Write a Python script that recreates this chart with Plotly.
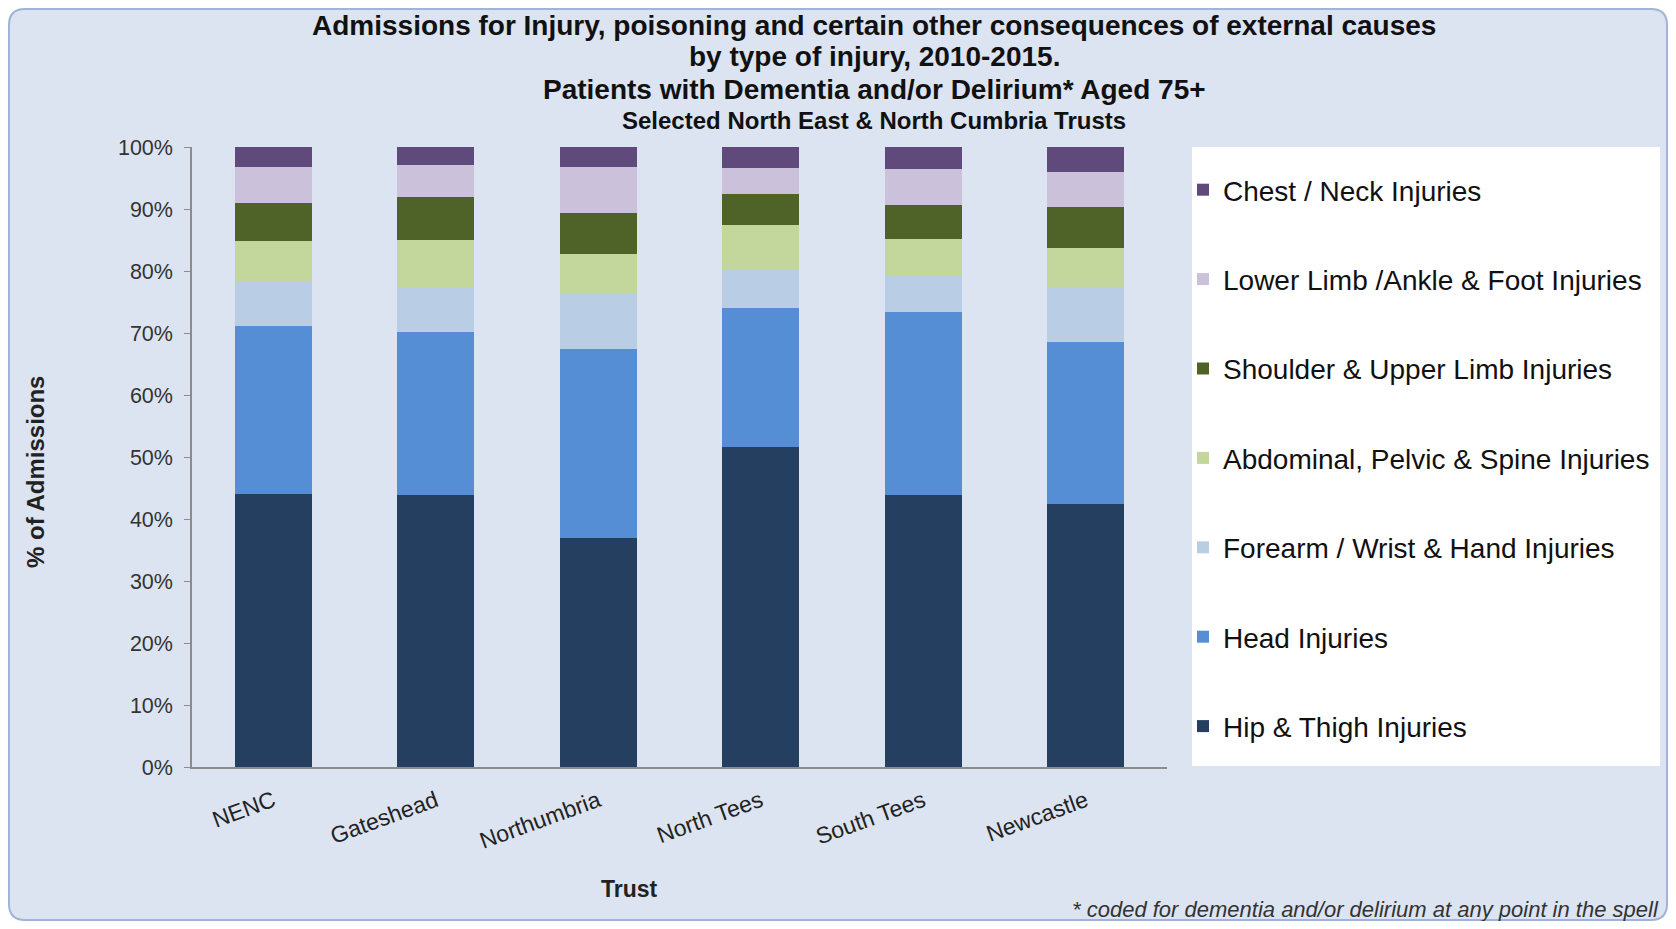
import plotly.graph_objects as go

# ---- data ----
trusts = ["NENC", "Gateshead", "Northumbria", "North Tees", "South Tees", "Newcastle"]

hip_thigh      = [44.0, 43.9, 37.0, 51.6, 43.9, 42.4]
head           = [27.2, 26.2, 30.4, 22.5, 29.5, 26.2]
forearm_wrist  = [7.0, 7.1, 9.0, 6.3, 6.0, 8.9]
abdominal      = [6.6, 7.8, 6.3, 7.0, 5.7, 6.2]
shoulder_upper = [6.1, 7.0, 6.6, 5.1, 5.5, 6.6]
lower_limb     = [5.8, 5.1, 7.4, 4.1, 5.9, 5.6]
chest_neck     = [3.3, 2.9, 3.3, 3.4, 3.5, 4.1]

series_names = [
    "Hip & Thigh Injuries",
    "Head Injuries",
    "Forearm / Wrist & Hand Injuries",
    "Abdominal, Pelvic & Spine Injuries",
    "Shoulder & Upper Limb Injuries",
    "Lower Limb /Ankle & Foot Injuries",
    "Chest / Neck Injuries",
]
series_values = [hip_thigh, head, forearm_wrist, abdominal, shoulder_upper, lower_limb, chest_neck]
series_colors = ["#243F60", "#558ED5", "#B9CDE5", "#C3D69B", "#4F6228", "#CCC1DA", "#604A7B"]

y_ticks = [0, 10, 20, 30, 40, 50, 60, 70, 80, 90, 100]
y_tick_labels = [f"{v}%" for v in y_ticks]

# ---- layout geometry ----
# page coordinates of the reference, minus the 8px default body margin of the page
OFF = 8
W, H = 1676 - 2 * OFF, 929 - 2 * OFF
ML = 192 - OFF
MT = 147 - OFF
MR = W - (1167 - OFF)
MB = H - (767 - OFF)
PW, PH = W - ML - MR, H - MT - MB


def px(x):
    """page x (reference pixels) -> paper fraction"""
    return (x - OFF - ML) / PW


def py(y):
    """page y (reference pixels) -> paper fraction"""
    return 1 - (y - OFF - MT) / PH


FONT = "Liberation Sans, Arial, sans-serif"

fig = go.Figure()
n = len(series_names)
for i, (name, vals, col) in enumerate(zip(series_names, series_values, series_colors)):
    fig.add_trace(go.Bar(
        name=name, x=trusts, y=vals, marker=dict(color=col, line=dict(width=0)),
        legendgroup=name, legendrank=n - i,
    ))

# rounded outer border (kept inside the figure)
x0, x1, y0, y1, r = OFF + 1, OFF + W - 1, OFF + 1, OFF + H - 1, 16
path = (
    f"M {px(x0 + r)},{py(y0)} L {px(x1 - r)},{py(y0)} Q {px(x1)},{py(y0)} {px(x1)},{py(y0 + r)} "
    f"L {px(x1)},{py(y1 - r)} Q {px(x1)},{py(y1)} {px(x1 - r)},{py(y1)} "
    f"L {px(x0 + r)},{py(y1)} Q {px(x0)},{py(y1)} {px(x0)},{py(y1 - r)} "
    f"L {px(x0)},{py(y0 + r)} Q {px(x0)},{py(y0)} {px(x0 + r)},{py(y0)} Z"
)
shapes = [
    dict(type="path", xref="paper", yref="paper", path=path,
         fillcolor="#DCE4F1", line=dict(color="#9FB4D6", width=2), layer="below"),
    dict(type="rect", xref="paper", yref="paper", x0=px(1192), x1=px(1660), y0=py(147), y1=py(766),
         fillcolor="white", line=dict(width=0), layer="below"),
]

title_lines = [
    ("Admissions for Injury, poisoning and certain other consequences of external causes", 25, 28),
    ("by type of injury, 2010-2015.", 57, 28),
    ("Patients with Dementia and/or Delirium* Aged 75+", 90, 28),
    ("Selected North East & North Cumbria Trusts", 120, 24),
]
annotations = []
for txt, yc, fs in title_lines:
    annotations.append(dict(text=f"<b>{txt}</b>", x=px(874), y=py(yc), xref="paper", yref="paper",
                            xanchor="center", yanchor="middle", showarrow=False,
                            font=dict(family=FONT, size=fs, color="#111111")))
annotations.append(dict(text="<b>% of Admissions</b>", x=px(35), y=py(472), xref="paper", yref="paper",
                        xanchor="center", yanchor="middle", showarrow=False, textangle=-90,
                        font=dict(family=FONT, size=24, color="#222222")))
annotations.append(dict(text="<b>Trust</b>", x=px(629), y=py(889), xref="paper", yref="paper",
                        xanchor="center", yanchor="middle", showarrow=False,
                        font=dict(family=FONT, size=23, color="#222222")))
annotations.append(dict(text="<i>* coded for dementia and/or delirium at any point in the spell</i>",
                        x=px(1661), y=py(909), xref="paper", yref="paper",
                        xanchor="right", yanchor="middle", showarrow=False,
                        font=dict(family=FONT, size=22, color="#333333")))

fig.update_layout(
    width=W, height=H,
    margin=dict(l=ML, r=MR, t=MT, b=MB, autoexpand=False),
    paper_bgcolor="white", plot_bgcolor="white",
    barmode="stack", bargap=0.525,
    font=dict(family=FONT, color="#333333"),
    shapes=shapes, annotations=annotations,
    showlegend=True,
    legend=dict(x=px(1183), y=py(165), xref="paper", yref="paper", xanchor="left", yanchor="top",
                bgcolor="rgba(0,0,0,0)", traceorder="grouped", tracegroupgap=50,
                font=dict(family=FONT, size=28, color="#111111"), itemclick=False),
    xaxis=dict(showline=True, linecolor="#8C8C8C", linewidth=1.5, ticks="", tickangle=-20,
               ticklabelstandoff=10,
               tickfont=dict(family=FONT, size=23, color="#222222"), showgrid=False, fixedrange=True),
    yaxis=dict(range=[0, 100], tickvals=y_ticks, ticktext=y_tick_labels, showline=True,
               linecolor="#8C8C8C", linewidth=1.5, ticks="outside", ticklen=6, tickcolor="#8C8C8C",
               ticklabelstandoff=7,
               tickfont=dict(family=FONT, size=21.5, color="#333333"), showgrid=False, zeroline=False,
               fixedrange=True),
)

fig.write_html("out.html")
